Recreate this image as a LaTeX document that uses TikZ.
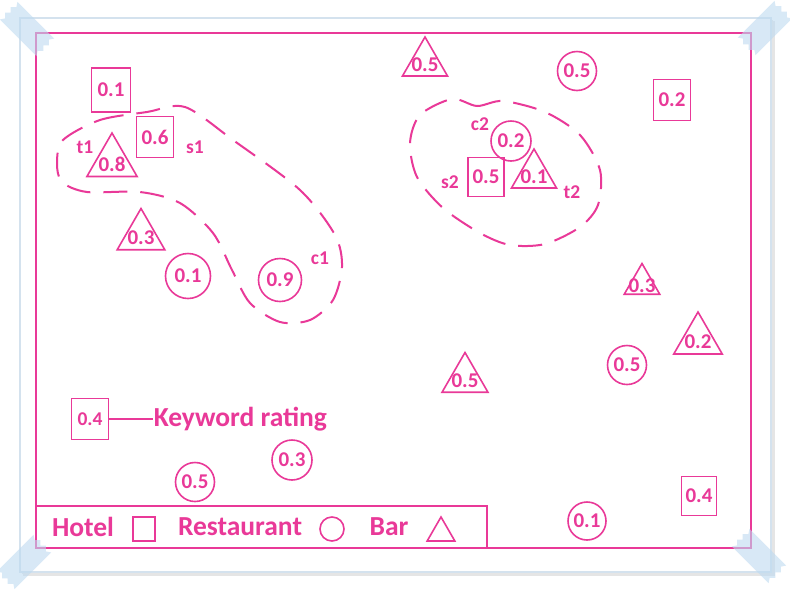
\documentclass[tikz,border=0pt]{standalone}
\usepackage{fontspec}
\setmainfont{Carlito}
\usetikzlibrary{shapes.geometric}
\definecolor{mag}{RGB}{233,57,152}
\definecolor{tapeblue}{RGB}{190,218,240}
\definecolor{edge}{RGB}{212,226,238}

\begin{document}
\begin{tikzpicture}
    [x=1pt, y=-1pt,
    color=mag,
    line width=1.6pt,
    every node/.style = {text=mag, font=\bfseries\fontsize{21}{21}\selectfont},
    hotel/.style = {rectangle, draw, inner sep=0pt,
                    minimum width=37pt, minimum height=41pt},
    rest/.style = {circle, draw, inner sep=0pt, minimum size=40pt},
    bar/.style = {regular polygon, regular polygon sides=3, draw,
                  inner sep=0pt, minimum size=#1},
    val/.style = {label={[yshift=-2pt]center:#1}},
    tag/.style = {font=\bfseries\fontsize{19.5}{19.5}\selectfont},
    legend/.style = {font=\bfseries\fontsize{27.5}{27.5}\selectfont},
    region/.style = {line width=2pt, dash pattern=on 24pt off 13pt}]
    \useasboundingbox (0,0) rectangle (790,590);
    % paper
    \fill[black!20, opacity=.5] (23,21) rectangle (775,576);
    \fill[black!10] (22,20) rectangle (773,574);
    \filldraw[fill=white, draw=edge, line width=1.5pt] (20,18) rectangle (771,572);
    \draw[line width=2pt] (36,33) rectangle (751,548);
    \draw[line width=2pt] (36,506) -| (487,548);
    % regions
    \draw[region] plot[smooth cycle] coordinates {(63,140) (100,120) (147,112)
        (185,107) (233,140) (300,190) (335,235) (342,267) (333,300) (310,320)
        (280,322) (250,303) (232,270) (213,233) (180,203) (140,192) (87,192)
        (62,182) (57,163)};
    \draw[region] plot[smooth cycle] coordinates {(452,99) (477,106) (503,101)
        (545,112) (580,135) (600,170) (598,205) (580,227) (545,244) (510,245)
        (480,233) (443,208) (417,177) (410,143) (420,115)};
    % hotels
    \node[hotel, minimum width=39pt, minimum height=44pt] (h1) at (111,90) {0.1};
    \node[hotel] (s1) at (155,137) {0.6};
    \node[hotel, minimum width=36pt, minimum height=39pt] (s2) at (486,177) {0.5};
    \node[hotel] (h2) at (672,100) {0.2};
    \node[hotel, minimum width=35pt, minimum height=39pt] (h3) at (699,496) {0.4};
    % restaurants
    \node[rest, minimum size=45pt] (r1) at (188,276) {0.1};
    \node[rest, minimum size=43pt] (c1) at (280,280) {0.9};
    \node[rest] (c2) at (511,141) {0.2};
    \node[rest, minimum size=39pt] (r2) at (577,71) {0.5};
    \node[rest, minimum size=39pt] (r3) at (627,365) {0.5};
    \node[rest] (r4) at (292,460) {0.3};
    \node[rest, minimum size=39pt] (r5) at (195,482) {0.5};
    \node[rest, minimum size=38pt] (r6) at (587,521) {0.1};
    % bars
    \node[bar=58pt, val=0.8] (t1) at (112,162) {};
    \node[bar=55pt, val=0.3] (b1) at (141,236) {};
    \node[bar=52pt, val=0.5] (b2) at (425,63) {};
    \node[bar=52pt, val=0.1] (t2) at (534,175) {};
    \node[bar=41pt, val=0.3] (b3) at (642,284) {};
    \node[bar=56pt, val=0.2] (b4) at (698,340) {};
    \node[bar=53pt, val=0.5] (b5) at (465,379) {};
    % tags
    \node[tag] (t1tag) at (85,147) {t1};
    \node[tag] (s1tag) at (195,147) {s1};
    \node[tag] (c1tag) at (320,258) {c1};
    \node[tag] (c2tag) at (480,124) {c2};
    \node[tag] (s2tag) at (450,182) {s2};
    \node[tag] (t2tag) at (572,192) {t2};
    % keyword rating
    \node[hotel, font=\bfseries\fontsize{19.5}{19.5}\selectfont] (kw) at (90,419) {0.4};
    \node[legend, anchor=west, inner sep=0pt] (keyword) at (153,419) {Keyword rating};
    \draw (kw) -- (keyword);
    % legend
    \node[legend] (hotelname) at (83,527) {Hotel};
    \node[hotel, minimum width=22pt, minimum height=24pt] (lh) at (144,529) {};
    \node[legend] (restname) at (240,527) {Restaurant};
    \node[rest, minimum size=24pt] (lr) at (332,529) {};
    \node[legend] (barname) at (389,527) {Bar};
    \node[bar=32pt] (lb) at (441,533) {};
    % tape
    \foreach \px/\py/\ang in {27/29/-45, 759/556/-45, 765/28/45, 24/562/45}
        \fill[tapeblue, opacity=.6, shift={(\px,\py)}, rotate=\ang]
            (-26,-12.5) -- (26,-12.5) -- (23,-8) -- (27,-4) -- (23,0)
            -- (27,4) -- (23,8) -- (26,12.5) -- (-26,12.5) -- (-23,8)
            -- (-27,4) -- (-23,0) -- (-27,-4) -- (-23,-8) -- cycle;
\end{tikzpicture}
\end{document}
